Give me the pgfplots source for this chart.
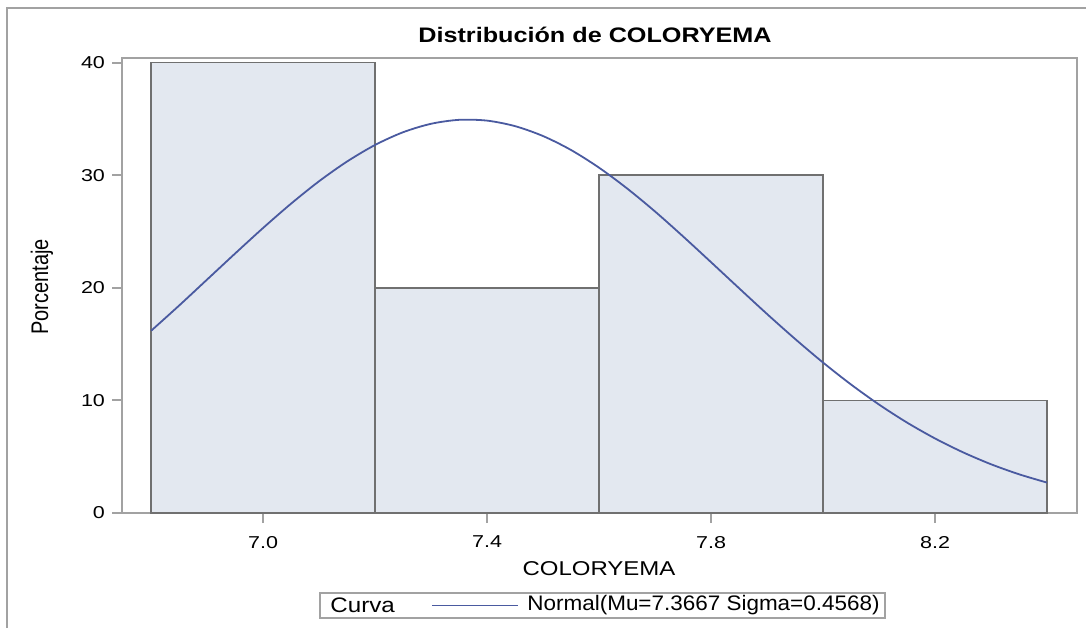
\documentclass[border=0pt]{standalone}
\usepackage{fontspec}
\setmainfont{Liberation Sans}
\usepackage{graphicx}
\usepackage{pgfplots}
\pgfplotsset{compat=1.18}
\definecolor{barfill}{HTML}{E3E8F0}
\definecolor{baredge}{HTML}{707070}
\definecolor{framegray}{HTML}{A2A2A2}
\definecolor{curveblue}{HTML}{4A5AA0}
% the reference is stretched sideways, so is the text here
\newcommand{\sx}[1]{\scalebox{1.2}[1]{#1}}
\newcommand{\tx}[1]{\scalebox{1.25}[1]{#1}}

\begin{document}
\begin{tikzpicture}
\useasboundingbox (0,0) rectangle (543pt,314pt);
\draw[framegray, line width=1pt] (3.5pt,0) -- (3.5pt,309.75pt) -- (543pt,309.75pt);

\begin{axis}[
    at={(61pt,57.5pt)}, anchor=south west,
    scale only axis,
    width=477.5pt, height=227.5pt,
    xmin=6.748, xmax=8.4536,
    ymin=0, ymax=40.4,
    xtick={7.0,7.4,7.8,8.2},
    xticklabels={\tx{7.0},\tx{7.4},\tx{7.8},\tx{8.2}},
    ytick={0,10,20,30,40},
    yticklabels={\tx{0},\tx{10},\tx{20},\tx{30},\tx{40}},
    tick pos=left,
    tick align=outside,
    major tick length=5pt,
    tick style={framegray, line width=1pt},
    axis line style={framegray, line width=1pt},
    ticklabel style={font=\fontsize{8.6}{10}\selectfont},
    xticklabel style={yshift=-3pt},
]
\addplot[ybar interval, fill=barfill, draw=baredge, line width=0.8pt]
    coordinates {(6.8,40) (7.2,20) (7.6,30) (8.0,10) (8.4,10)};
\addplot[curveblue, line width=0.9pt, smooth]
    coordinates {
        (6.80,16.18) (6.85,18.42) (6.90,20.73) (6.95,23.04)
        (7.00,25.31) (7.05,27.47) (7.10,29.46) (7.15,31.21)
        (7.20,32.68) (7.25,33.81) (7.30,34.56) (7.35,34.91)
        (7.40,34.84) (7.45,34.35) (7.50,33.47) (7.55,32.23)
        (7.60,30.66) (7.65,28.82) (7.70,26.77) (7.75,24.56)
        (7.80,22.27) (7.85,19.96) (7.90,17.67) (7.95,15.46)
        (8.00,13.36) (8.05,11.41) (8.10,9.63) (8.15,8.03)
        (8.20,6.62) (8.25,5.39) (8.30,4.33) (8.35,3.44)
        (8.40,2.70)
    };
\end{axis}

% title and axis labels
\node[font=\fontsize{10.5}{12}\selectfont\bfseries] at (297.5pt,296.5pt)
    {\sx{Distribución de COLORYEMA}};
\node[font=\fontsize{10}{12}\selectfont] at (299.5pt,29.5pt) {\sx{COLORYEMA}};
\node[font=\fontsize{10}{12}\selectfont, rotate=90] at (21pt,170.5pt)
    {\scalebox{1}[1.2]{Porcentaje}};

% legend
\draw[framegray, line width=0.8pt] (160pt,5pt) rectangle (442.5pt,17.5pt);
\node[font=\fontsize{10.5}{12}\selectfont, anchor=west, inner sep=0pt] at (165pt,11.25pt)
    {\scalebox{1.15}[1]{Curva}};
\draw[curveblue, line width=0.9pt] (216pt,11.25pt) -- (259pt,11.25pt);
\node[font=\fontsize{10.5}{12}\selectfont, anchor=west, inner sep=0pt] at (263.5pt,11.25pt)
    {\scalebox{1.07}[1]{Normal(Mu=7.3667 Sigma=0.4568)}};
\end{tikzpicture}
\end{document}
